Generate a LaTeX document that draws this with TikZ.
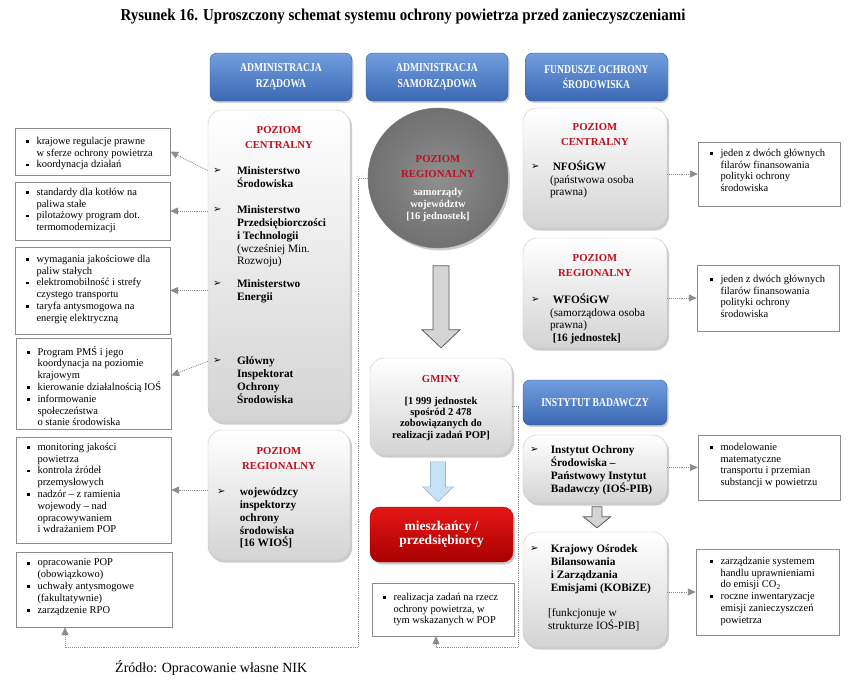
\documentclass[tikz,border=0pt]{standalone}
\usepackage{fontspec}
\setmainfont{Liberation Serif}
\newfontfamily\condfont[FakeStretch=0.8]{Liberation Serif}
\newfontfamily\ttlfamily[FakeStretch=0.9]{Liberation Serif}
\newfontfamily\symfont{DejaVu Sans}
\usetikzlibrary{calc,shadows,arrows.meta}

\definecolor{hdrtop}{RGB}{114,158,222}
\definecolor{hdrbot}{RGB}{58,104,178}
\definecolor{hdrline}{RGB}{48,86,150}
\definecolor{lvlred}{RGB}{190,16,30}
\definecolor{redtop}{RGB}{228,22,22}
\definecolor{redbot}{RGB}{168,0,0}
\definecolor{skyfill}{RGB}{198,226,246}

\newcommand{\titlefont}{\ttlfamily\bfseries\fontsize{16.6}{18}\selectfont}
\newcommand{\hdrfont}{\condfont\bfseries\fontsize{12}{15.5}\selectfont}
\newcommand{\lvltxt}{\bfseries\fontsize{10.7}{15}\selectfont}
\newcommand{\itemtxt}{\bfseries\fontsize{11.3}{12.9}\selectfont}
\newcommand{\smalltxt}{\fontsize{10.5}{11.8}\selectfont}
% bullets
\newcommand{\arr}[1][24pt]{\makebox[#1][l]{\raisebox{0.1ex}{\symfont\fontsize{10}{10}\selectfont ➢}}}
\newcommand{\ind}[1][24pt]{\hspace*{#1}}
\newcommand{\sq}{\makebox[10.5pt][l]{\raisebox{0.3ex}{\rule{2.8pt}{2.8pt}}}}
\newcommand{\nind}{\hspace*{10.5pt}}

\tikzset{
  pics/blockarr/.style n args={4}{code={
    \path[pic actions] ({-(#2)/2},0) -- ({(#2)/2},0) -- ({(#2)/2},{#1-#4})
      -- ({(#3)/2},{#1-#4}) -- (0,#1) -- ({-(#3)/2},{#1-#4})
      -- ({-(#2)/2},{#1-#4}) -- cycle;
  }}
}

\begin{document}
\begin{tikzpicture}[x=1pt,y=-1pt,
  hdr/.style={rounded corners=7pt, draw=hdrline, top color=hdrtop, bottom color=hdrbot,
    drop shadow={shadow xshift=1.5pt, shadow yshift=-2pt, opacity=.35},
    text=white, font=\hdrfont, align=center, minimum width=142pt},
  panel/.style={rounded corners=14pt, draw=black!22, top color=white, bottom color=black!17,
    drop shadow={shadow xshift=2pt, shadow yshift=-2.5pt, opacity=.4}},
  note/.style={draw=black!45, fill=white},
  lvl/.style={font=\lvltxt, text=lvlred, align=center, inner sep=0pt},
  body/.style={font=\itemtxt, align=left, inner sep=0pt, anchor=north west},
  notetext/.style={font=\smalltxt, align=left, inner sep=0pt, anchor=north west},
  link/.style={densely dotted, draw=black!45, line width=0.9pt, -{Triangle[length=8pt,width=7pt]}},
  bigarrow/.style={draw=black!65, fill=black!17, line width=0.8pt},
]
\useasboundingbox (0,0) rectangle (865,688);

\node[font=\titlefont] (ttl) at (403,17) {Rysunek 16. Uproszczony schemat systemu ochrony powietrza przed zanieczyszczeniami};

% headers
\node[hdr, minimum height=48pt] (hrz) at (281,77) {ADMINISTRACJA\\RZĄDOWA};
\node[hdr, minimum height=48pt] (hsam) at (437,77) {ADMINISTRACJA\\SAMORZĄDOWA};
\node[hdr, minimum height=48pt] (hfun) at (596.5,77) {FUNDUSZE OCHRONY\\ŚRODOWISKA};

% administracja rzadowa
\node[panel, minimum width=142pt, minimum height=312pt] (pc) at (279,266) {};
\node[lvl] (pcT) at ($(pc.north)+(0,27.5)$) {POZIOM\\CENTRALNY};
\node[body] (ms) at ($(pc.north west)+(5,56.5)$) {\arr Ministerstwo\\ \ind Środowiska};
\node[body] (mpt) at ($(pc.north west)+(5,95.5)$) {\arr Ministerstwo\\ \ind Przedsiębiorczości\\ \ind i Technologii\\ \ind{\mdseries (wcześniej Min.}\\ \ind{\mdseries Rozwoju)}};
\node[body] (me) at ($(pc.north west)+(5,169.5)$) {\arr Ministerstwo\\ \ind Energii};
\node[body] (gios) at ($(pc.north west)+(5,246.5)$) {\arr Główny\\ \ind Inspektorat\\ \ind Ochrony\\ \ind Środowiska};

\node[panel, minimum width=142pt, minimum height=130pt] (pr) at (279,495) {};
\node[lvl] (prT) at ($(pr.north)+(0,28.5)$) {POZIOM\\REGIONALNY};
\node[body] (wio) at ($(pr.north west)+(9,57.5)$) {\arr[20pt] wojewódzcy\\ \ind[20pt] inspektorzy\\ \ind[20pt] ochrony\\ \ind[20pt] środowiska\\ \ind[20pt] [16 WIOŚ]};

% left notes
\node[note, minimum width=155pt, minimum height=47pt] (t1) at (92.5,151.5) {};
\node[notetext] at ($(t1.north west)+(11,9)$) {\sq krajowe regulacje prawne\\ \nind w sferze ochrony powietrza\\ \sq koordynacja działań};
\node[note, minimum width=155pt, minimum height=58pt] (t2) at (92.5,211) {};
\node[notetext] at ($(t2.north west)+(11,6)$) {\sq standardy dla kotłów na\\ \nind paliwa stałe\\ \sq pilotażowy program dot.\\ \nind termomodernizacji};
\node[note, minimum width=155pt, minimum height=87pt] (t3) at (92.5,290.5) {};
\node[notetext] at ($(t3.north west)+(11,8)$) {\sq wymagania jakościowe dla\\ \nind paliw stałych\\ \sq elektromobilność i strefy\\ \nind czystego transportu\\ \sq taryfa antysmogowa na\\ \nind energię elektryczną};
\node[note, minimum width=155pt, minimum height=91pt] (t4) at (93.5,383.5) {};
\node[notetext] at ($(t4.north west)+(11,8)$) {\sq Program PMŚ i jego\\ \nind koordynacja na poziomie\\ \nind krajowym\\ \sq kierowanie działalnością IOŚ\\ \sq informowanie\\ \nind społeczeństwa\\ \nind o stanie środowiska};
\node[note, minimum width=155pt, minimum height=106pt] (t5) at (93.5,490) {};
\node[notetext] at ($(t5.north west)+(11,6)$) {\sq monitoring jakości\\ \nind powietrza\\ \sq kontrola źródeł\\ \nind przemysłowych\\ \sq nadzór – z ramienia\\ \nind wojewody – nad\\ \nind opracowywaniem\\ \nind i wdrażaniem POP};
\node[note, minimum width=156pt, minimum height=75pt] (t6) at (94,589.5) {};
\node[notetext] at ($(t6.north west)+(11,7)$) {\sq opracowanie POP\\ \nind (obowiązkowo)\\ \sq uchwały antysmogowe\\ \nind (fakultatywnie)\\ \sq zarządzenie RPO};

% administracja samorzadowa
\node[circle, minimum size=140pt, inner color=black!44, outer color=black!56, draw=black!50,
  drop shadow={shadow xshift=2pt, shadow yshift=-2.5pt, opacity=.4}] (circ) at (438,178) {};
\node[lvl] (cT) at (438,167) {POZIOM\\REGIONALNY};
\node[font=\bfseries\fontsize{10.5}{11.6}\selectfont, text=white, align=center, inner sep=0pt, anchor=north] (cB) at (438,188.5) {samorządy\\województw\\{[16 jednostek]}};

\node[panel, minimum width=142pt, minimum height=97pt] (gm) at (441,406.5) {};
\node[lvl] (gT) at ($(gm.north)+(0,21)$) {GMINY};
\node[font=\bfseries\fontsize{10.5}{11.2}\selectfont, align=center, inner sep=0pt, anchor=north] (gB) at (441,397) {{[1 999 jednostek}\\spośród 2 478\\zobowiązanych do\\realizacji zadań POP]};

\node[rounded corners=10pt, draw=redbot, top color=redtop, bottom color=redbot,
  drop shadow={shadow xshift=2pt, shadow yshift=-2.5pt, opacity=.4},
  minimum width=143pt, minimum height=55pt, text=white, align=center,
  font=\bfseries\fontsize{13.5}{14.5}\selectfont] (mk) at (441.5,534.5) {mieszkańcy /\\przedsiębiorcy};

\node[note, minimum width=142pt, minimum height=53pt] (re) at (443,609.5) {};
\node[notetext] at ($(re.north west)+(11,10)$) {\sq realizacja zadań na rzecz\\ \nind ochrony powietrza, w\\ \nind tym wskazanych w POP};

\pic[bigarrow] at ($(gm.north)+(0,-92)$) {blockarr={82}{16}{38}{18}};
\pic[draw=skyfill!80!black, fill=skyfill, line width=0.6pt] at ($(mk.north)+(-3.5,-45)$) {blockarr={40}{15}{31}{15}};

% fundusze
\node[panel, minimum width=144pt, minimum height=120pt] (fc) at (595,168) {};
\node[lvl] (fcT) at ($(fc.north)+(0,27)$) {POZIOM\\CENTRALNY};
\node[body] (nf) at ($(fc.north west)+(8,52.5)$) {\arr[19pt] NFOŚiGW\\ \ind[19pt]{\mdseries (państwowa osoba}\\ \ind[19pt]{\mdseries prawna)}};

\node[panel, minimum width=144pt, minimum height=110pt] (fr) at (595,293) {};
\node[lvl] (frT) at ($(fr.north)+(0,28)$) {POZIOM\\REGIONALNY};
\node[body] (wf) at ($(fr.north west)+(8,55.5)$) {\arr[19pt] WFOŚiGW\\ \ind[19pt]{\mdseries (samorządowa osoba}\\ \ind[19pt]{\mdseries prawna)}\\ \ind[19pt] [16 jednostek]};

% instytut
\node[hdr, minimum width=144pt, minimum height=45pt] (ib) at (595,402.5) {INSTYTUT BADAWCZY};
\node[panel, minimum width=144pt, minimum height=68pt] (io) at (595,469) {};
\node[body] (ios) at ($(io.north west)+(7,10.5)$) {\arr[18pt] Instytut Ochrony\\ \ind[18pt] Środowiska –\\ \ind[18pt] Państwowy Instytut\\ \ind[18pt] Badawczy (IOŚ-PIB)};
\node[panel, minimum width=144pt, minimum height=115pt] (kb) at (595,589.5) {};
\node[body] (kob) at ($(kb.north west)+(7,12.5)$) {\arr[18pt] Krajowy Ośrodek\\ \ind[18pt] Bilansowania\\ \ind[18pt] i Zarządzania\\ \ind[18pt] Emisjami (KOBiZE)\\[12.9pt] \ind[18pt]{\mdseries [funkcjonuje w}\\ \ind[18pt]{\mdseries strukturze IOŚ-PIB]}};
\pic[bigarrow] at ($(kb.north)+(2,-25)$) {blockarr={21}{10}{27}{11}};

% right notes
\node[note, minimum width=142pt, minimum height=64pt] (r1) at (769,174) {};
\node[notetext] at ($(r1.north west)+(12,7)$) {\sq jeden z dwóch głównych\\ \nind filarów finansowania\\ \nind polityki ochrony\\ \nind środowiska};
\node[note, minimum width=142pt, minimum height=66pt] (r2) at (768,298) {};
\node[notetext] at ($(r2.north west)+(13,10)$) {\sq jeden z dwóch głównych\\ \nind filarów finansowania\\ \nind polityki ochrony\\ \nind środowiska};
\node[note, minimum width=142pt, minimum height=65pt] (r3) at (769,467.5) {};
\node[notetext] at ($(r3.north west)+(12,8)$) {\sq modelowanie\\ \nind matematyczne\\ \nind transportu i przemian\\ \nind substancji w powietrzu};
\node[note, minimum width=143pt, minimum height=86pt] (r4) at (767.5,592) {};
\node[notetext] at ($(r4.north west)+(14,8)$) {\sq zarządzanie systemem\\ \nind handlu uprawnieniami\\ \nind do emisji CO\textsubscript{2}\\ \sq roczne inwentaryzacje\\ \nind emisji zanieczyszczeń\\ \nind powietrza};

% connectors
\draw[link] ($(pc.west |- ms.north)+(0,4.5)$) -- (t1.east);
\draw[link] (pc.west |- t2) -- (t2);
\draw[link] (pc.west |- t3) -- (t3);
\draw[link] ($(pc.west |- gios.north)+(0,5)$) -- ($(t4.east)+(0,-8)$);
\draw[link] (pr.west |- t5) -- (t5);
\draw[link] (fc.east |- r1) -- (r1);
\draw[link] (fr.east |- r2) -- (r2);
\draw[link] (io.east |- r3) -- (r3);
\draw[link] (kb.east |- r4) -- (r4);
\draw[link] (circ.west) -- ++(-9,0) -- ++(0,469) -| ($(t6.south)+(-29,0)$);
\draw[link] (gm.east) -- ++(6,0) -- ++(0,240.5) -| ($(re.south)+(-7,0)$);

\node[font=\fontsize{14}{16}\selectfont, anchor=west, inner sep=0pt] (src) at (115,668) {Źródło: Opracowanie własne NIK};
\end{tikzpicture}
\end{document}
